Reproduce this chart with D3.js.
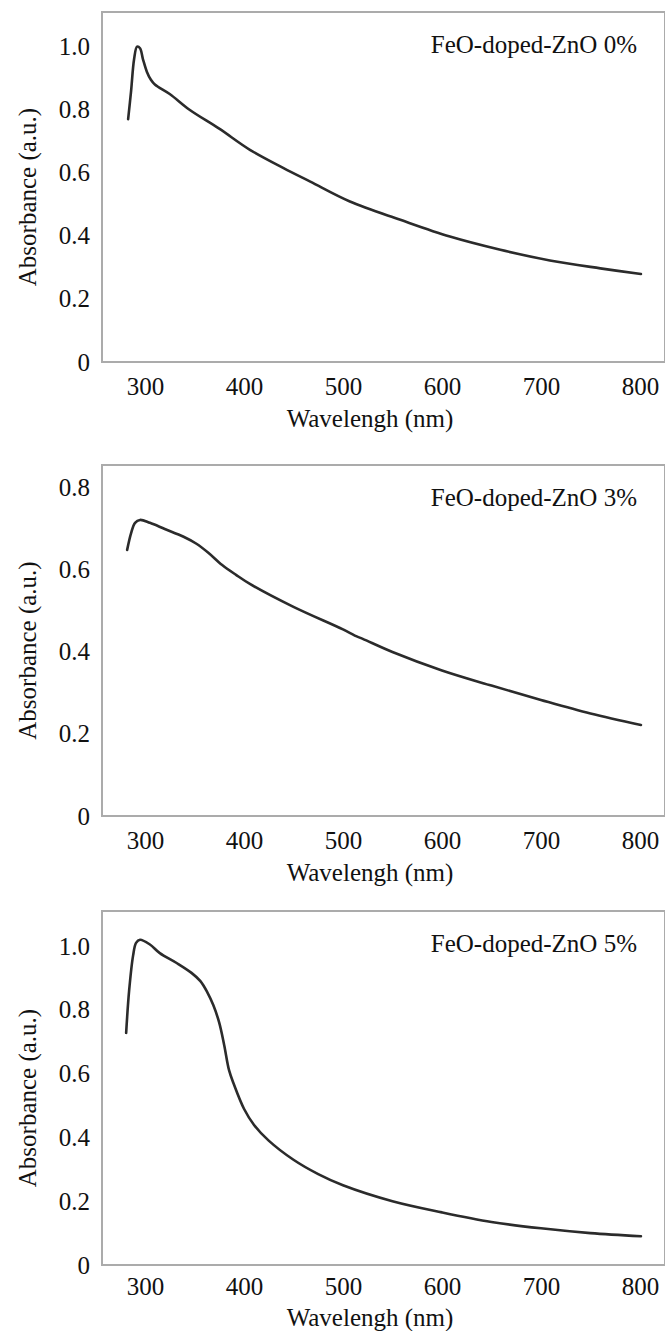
<!DOCTYPE html>
<html>
<head>
<meta charset="utf-8">
<script src="https://cdn.jsdelivr.net/npm/d3@7"></script>
<style>
  body { margin: 0; background: #fff; }
  svg { display: block; }
</style>
</head>
<body>
<div id="chart"></div>
<script>
// wavelength (nm) and absorbance (a.u.)
const wl0 = [283, 286, 289, 292, 295, 298, 302, 306, 310, 325, 345, 375, 406, 440, 467, 507, 558, 608, 659, 709, 760, 801];
const abs0 = [0.77, 0.86, 0.96, 1.0, 0.995, 0.96, 0.92, 0.895, 0.88, 0.85, 0.80, 0.74, 0.673, 0.615, 0.572, 0.509, 0.451, 0.398, 0.356, 0.322, 0.297, 0.279];

const wl3 = [282, 286, 290, 295, 305, 320, 339, 352, 364, 378, 392, 406, 450, 500, 512, 520, 550, 600, 650, 700, 750, 801];
const abs3 = [0.649, 0.69, 0.715, 0.722, 0.715, 0.70, 0.681, 0.664, 0.642, 0.612, 0.588, 0.566, 0.51, 0.455, 0.44, 0.432, 0.40, 0.355, 0.318, 0.283, 0.25, 0.222];

const wl5 = [281, 284, 288, 291, 295, 305, 315, 332, 347, 356, 363, 369, 375, 380, 385, 390, 400, 410, 425, 450, 475, 500, 550, 600, 650, 700, 750, 801];
const abs5 = [0.728, 0.86, 0.97, 1.01, 1.02, 1.005, 0.978, 0.947, 0.916, 0.89, 0.855, 0.815, 0.76, 0.69, 0.61, 0.565, 0.49, 0.44, 0.39, 0.33, 0.285, 0.25, 0.20, 0.165, 0.135, 0.115, 0.10, 0.09];

const xTicks = [300, 400, 500, 600, 700, 800];
const yTicksA = [0, 0.2, 0.4, 0.6, 0.8, 1.0];
const yTicksB = [0, 0.2, 0.4, 0.6, 0.8];
const labels = ["FeO-doped-ZnO 0%", "FeO-doped-ZnO 3%", "FeO-doped-ZnO 5%"];

const panels = [
  { x: wl0, y: abs0, ticks: yTicksA, yMax: 1.11, top: 12, bottom: 362, pad: 15, label: labels[0] },
  { x: wl3, y: abs3, ticks: yTicksB, yMax: 0.856, top: 465, bottom: 816, pad: 15, label: labels[1] },
  { x: wl5, y: abs5, ticks: yTicksA, yMax: 1.11, top: 911, bottom: 1265, pad: 12, label: labels[2] }
];

const width = 665, height = 1331;
const left = 102, right = 665;
const fontSize = '25px';
const serif = '"Liberation Serif"';

const svg = d3.select('#chart')
  .append('svg')
  .attr('width', width)
  .attr('height', height);

const x = d3.scaleLinear()
  .domain([256.6, 825.3])
  .range([left, right]);

function styleText(sel) {
  sel.style('font-family', serif)
    .style('font-size', fontSize)
    .attr('fill', '#111');
}

panels.forEach(p => {
  const y = d3.scaleLinear()
    .domain([0, p.yMax])
    .range([p.bottom, p.top]);

  const g = svg.append('g');

  // frame
  g.append('rect')
    .attr('x', left)
    .attr('y', p.top)
    .attr('width', right - left)
    .attr('height', p.bottom - p.top)
    .attr('fill', 'none')
    .attr('stroke', '#ababab')
    .attr('stroke-width', 2);

  // y axis labels
  const yAxis = g.append('g')
    .attr('transform', `translate(${left},0)`)
    .call(d3.axisLeft(y).tickValues(p.ticks).tickSize(0).tickPadding(12)
      .tickFormat(d => d === 0 ? '0' : d.toFixed(1)));
  yAxis.select('.domain').remove();
  yAxis.selectAll('text').call(styleText);

  // x axis labels
  const xAxis = g.append('g')
    .attr('transform', `translate(0,${p.bottom})`)
    .call(d3.axisBottom(x).tickValues(xTicks).tickSize(0).tickPadding(p.pad));
  xAxis.select('.domain').remove();
  xAxis.selectAll('text').call(styleText);

  // axis titles
  g.append('text')
    .attr('x', 370)
    .attr('y', Math.min(p.bottom + 65, height - 5))
    .attr('text-anchor', 'middle')
    .text('Wavelengh (nm)')
    .call(styleText);

  g.append('text')
    .attr('transform', `translate(36,${(p.top + p.bottom) / 2 + 10}) rotate(-90)`)
    .attr('text-anchor', 'middle')
    .text('Absorbance (a.u.)')
    .call(styleText);

  // sample label
  g.append('text')
    .attr('x', 637)
    .attr('y', p.top + 41)
    .attr('text-anchor', 'end')
    .text(p.label)
    .call(styleText);

  // spectrum
  const pts = p.x.map((v, i) => [v, p.y[i]]);
  g.append('path')
    .datum(pts)
    .attr('fill', 'none')
    .attr('stroke', '#2b2b2b')
    .attr('stroke-width', 2.6)
    .attr('stroke-linejoin', 'round')
    .attr('stroke-linecap', 'round')
    .attr('d', d3.line()
      .x(d => x(d[0]))
      .y(d => y(d[1]))
      .curve(d3.curveCatmullRom.alpha(0.5)));
});
</script>
</body>
</html>
